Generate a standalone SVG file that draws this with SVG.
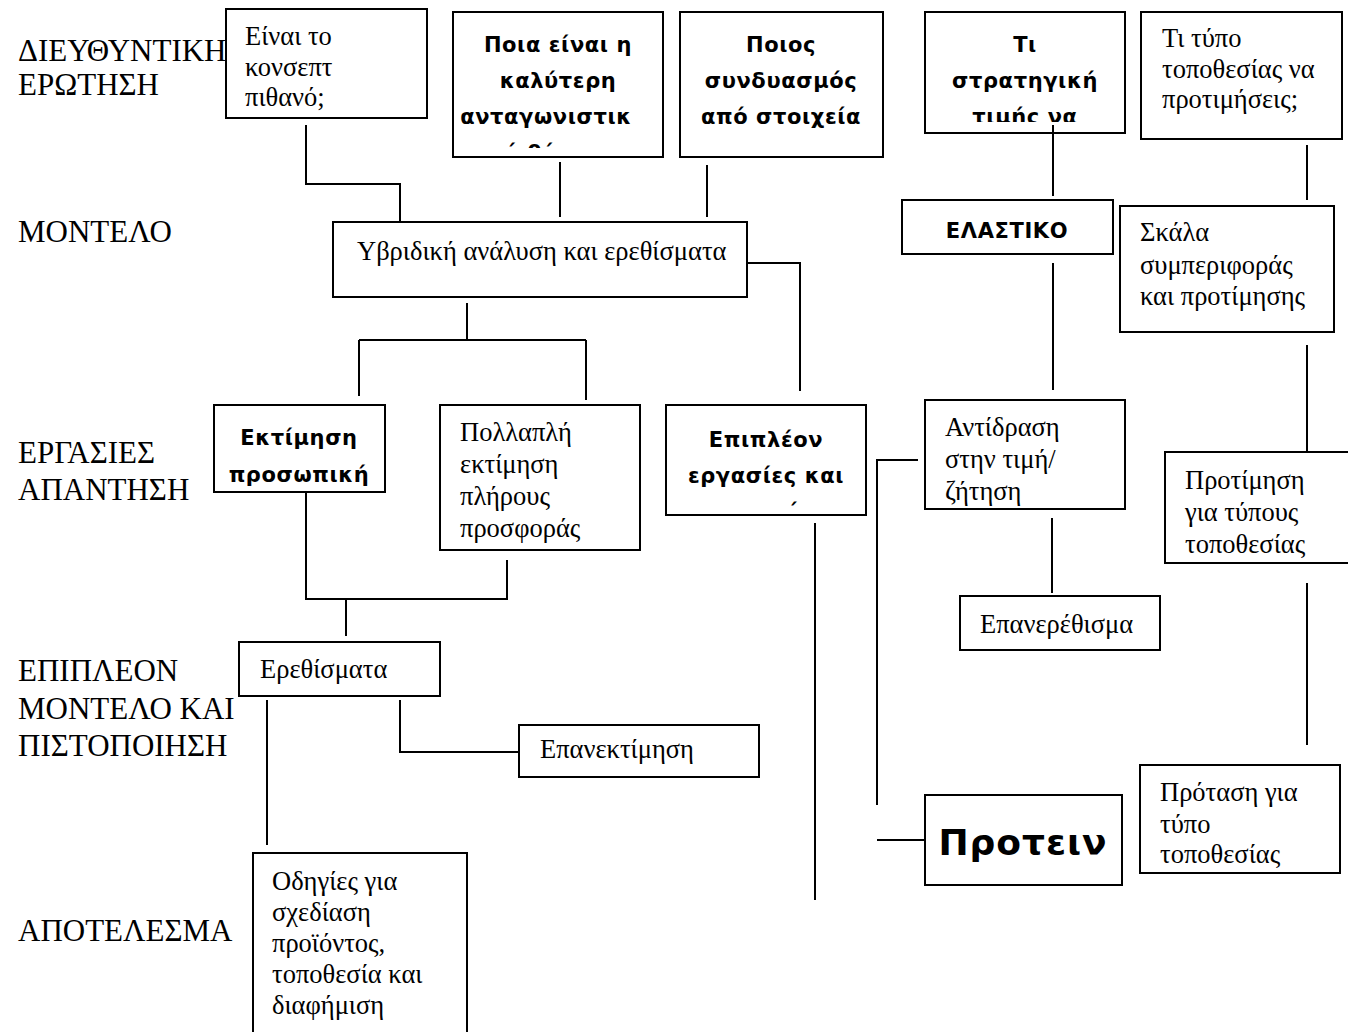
<svg xmlns="http://www.w3.org/2000/svg" width="1348" height="1032" viewBox="0 0 1348 1032">
  <style>
    .lbl { font-family: "Liberation Serif", "DejaVu Serif", serif; font-size: 31px; fill: #000; }
    .box { fill: #fff; stroke: #000; stroke-width: 2; }
    .t { font-family: "Liberation Serif", "DejaVu Serif", serif; font-size: 26.5px; fill: #000; }
    .b { font-family: "DejaVu Sans", "Verdana", sans-serif; font-weight: bold; font-size: 21px; letter-spacing: 0.6px; fill: #000; text-anchor: middle; }
    .big { font-size: 36px; letter-spacing: 1px; }
    .link { fill: none; stroke: #000; stroke-width: 2; }
  </style>
  <defs>
    <clipPath id="clipPoia"><rect x="453" y="12" width="210" height="136"/></clipPath>
    <clipPath id="clipTi"><rect x="925" y="12" width="200" height="110"/></clipPath>
    <clipPath id="clipEpi"><rect x="666" y="405" width="200" height="102"/></clipPath>
  </defs>
  <rect width="1348" height="1032" fill="#fff"/>

  <!-- row labels -->
  <g id="row-labels">
    <text class="lbl" x="18" y="61">ΔΙΕΥΘΥΝΤΙΚΗ</text>
    <text class="lbl" x="18" y="95">ΕΡΩΤΗΣΗ</text>
    <text class="lbl" x="18" y="242">ΜΟΝΤΕΛΟ</text>
    <text class="lbl" x="18" y="463">ΕΡΓΑΣΙΕΣ</text>
    <text class="lbl" x="18" y="500">ΑΠΑΝΤΗΣΗ</text>
    <text class="lbl" x="18" y="681">ΕΠΙΠΛΕΟΝ</text>
    <text class="lbl" x="18" y="719">ΜΟΝΤΕΛΟ ΚΑΙ</text>
    <text class="lbl" x="18" y="756">ΠΙΣΤΟΠΟΙΗΣΗ</text>
    <text class="lbl" x="18" y="941">ΑΠΟΤΕΛΕΣΜΑ</text>
  </g>

  <!-- question row -->
  <g id="q-concept">
    <rect class="box" x="226" y="9" width="201" height="109"/>
    <text class="t" x="245" y="45">Είναι το</text>
    <text class="t" x="245" y="76">κονσεπτ</text>
    <text class="t" x="245" y="106">πιθανό;</text>
  </g>
  <g id="q-position">
    <rect class="box" x="453" y="12" width="210" height="145"/>
    <g clip-path="url(#clipPoia)">
      <text class="b" x="558" y="52">Ποια είναι η</text>
      <text class="b" x="558" y="88">καλύτερη</text>
      <text class="b" x="546" y="124">ανταγωνιστικ</text>
      <text class="b" x="550" y="160">ή θέση;</text>
    </g>
  </g>
  <g id="q-mix">
    <rect class="box" x="680" y="12" width="203" height="145"/>
    <text class="b" x="781" y="52">Ποιος</text>
    <text class="b" x="781" y="88">συνδυασμός</text>
    <text class="b" x="781" y="124">από στοιχεία</text>
  </g>
  <g id="q-price">
    <rect class="box" x="925" y="12" width="200" height="121"/>
    <g clip-path="url(#clipTi)">
      <text class="b" x="1025" y="52">Τι</text>
      <text class="b" x="1025" y="88">στρατηγική</text>
      <text class="b" x="1025" y="124">τιμής να</text>
    </g>
  </g>
  <g id="q-location">
    <rect class="box" x="1141" y="12" width="201" height="127"/>
    <text class="t" x="1162" y="47">Τι τύπο</text>
    <text class="t" x="1162" y="78">τοποθεσίας να</text>
    <text class="t" x="1162" y="108">προτιμήσεις;</text>
  </g>

  <!-- model row -->
  <g id="m-hybrid">
    <rect class="box" x="333" y="222" width="414" height="75"/>
    <text class="t" x="357" y="260">Υβριδική ανάλυση και ερεθίσματα</text>
  </g>
  <g id="m-elastic">
    <rect class="box" x="902" y="200" width="211" height="54"/>
    <text class="b" x="1007" y="238">ΕΛΑΣΤΙΚΟ</text>
  </g>
  <g id="m-scale">
    <rect class="box" x="1120" y="206" width="214" height="126"/>
    <text class="t" x="1140" y="241">Σκάλα</text>
    <text class="t" x="1140" y="274">συμπεριφοράς</text>
    <text class="t" x="1140" y="305">και προτίμησης</text>
  </g>

  <!-- task row -->
  <g id="t-personal">
    <rect class="box" x="214" y="405" width="171" height="87"/>
    <text class="b" x="299" y="445">Εκτίμηση</text>
    <text class="b" x="299" y="482">προσωπική</text>
  </g>
  <g id="t-multiple">
    <rect class="box" x="440" y="405" width="200" height="145"/>
    <text class="t" x="460" y="441">Πολλαπλή</text>
    <text class="t" x="460" y="473">εκτίμηση</text>
    <text class="t" x="460" y="505">πλήρους</text>
    <text class="t" x="460" y="537">προσφοράς</text>
  </g>
  <g id="t-extra">
    <rect class="box" x="666" y="405" width="200" height="110"/>
    <g clip-path="url(#clipEpi)">
      <text class="b" x="766" y="447">Επιπλέον</text>
      <text class="b" x="766" y="483">εργασίες και</text>
      <text class="b" x="766" y="519">προσεγγίσεις</text>
    </g>
  </g>
  <g id="t-reaction">
    <rect class="box" x="925" y="400" width="200" height="109"/>
    <text class="t" x="945" y="436">Αντίδραση</text>
    <text class="t" x="945" y="468">στην τιμή/</text>
    <text class="t" x="945" y="500">ζήτηση</text>
  </g>
  <g id="t-preference">
    <rect class="box" x="1165" y="452" width="190" height="111"/>
    <text class="t" x="1185" y="489">Προτίμηση</text>
    <text class="t" x="1185" y="521">για τύπους</text>
    <text class="t" x="1185" y="553">τοποθεσίας</text>
  </g>
  <g id="t-restimulus">
    <rect class="box" x="960" y="596" width="200" height="54"/>
    <text class="t" x="980" y="633">Επανερέθισμα</text>
  </g>

  <!-- extra model row -->
  <g id="v-stimuli">
    <rect class="box" x="239" y="642" width="201" height="54"/>
    <text class="t" x="260" y="678">Ερεθίσματα</text>
  </g>
  <g id="v-reestimate">
    <rect class="box" x="519" y="725" width="240" height="52"/>
    <text class="t" x="540" y="758">Επανεκτίμηση</text>
  </g>
  <g id="v-proposal">
    <rect class="box" x="1140" y="765" width="200" height="108"/>
    <text class="t" x="1160" y="801">Πρόταση για</text>
    <text class="t" x="1160" y="833">τύπο</text>
    <text class="t" x="1160" y="863">τοποθεσίας</text>
  </g>
  <g id="v-suggest">
    <rect class="box" x="925" y="795" width="197" height="90"/>
    <text class="b big" x="1023" y="855">Προτειν</text>
  </g>

  <!-- result row -->
  <g id="r-guidelines">
    <rect class="box" x="253" y="853" width="214" height="190"/>
    <text class="t" x="272" y="890">Οδηγίες για</text>
    <text class="t" x="272" y="921">σχεδίαση</text>
    <text class="t" x="272" y="952">προϊόντος,</text>
    <text class="t" x="272" y="983">τοποθεσία και</text>
    <text class="t" x="272" y="1014">διαφήμιση</text>
  </g>

  <!-- connectors -->
  <g id="connectors">
    <path class="link" d="M306,125 V184 H400 V222"/>
    <path class="link" d="M560,162 V217"/>
    <path class="link" d="M707,165 V217"/>
    <path class="link" d="M467,303 V340"/>
    <path class="link" d="M359,340 H586"/>
    <path class="link" d="M359,340 V396"/>
    <path class="link" d="M586,340 V400"/>
    <path class="link" d="M747,263 H800 V391"/>
    <path class="link" d="M306,492 V599 H507 V560"/>
    <path class="link" d="M346,599 V636"/>
    <path class="link" d="M400,700 V752 H519"/>
    <path class="link" d="M267,700 V845"/>
    <path class="link" d="M815,523 V900"/>
    <path class="link" d="M918,460 H877 V805"/>
    <path class="link" d="M877,840 H925"/>
    <path class="link" d="M1053,125 V196"/>
    <path class="link" d="M1053,263 V390"/>
    <path class="link" d="M1052,518 V593"/>
    <path class="link" d="M1307,145 V200"/>
    <path class="link" d="M1307,345 V452"/>
    <path class="link" d="M1307,583 V745"/>
  </g>
</svg>
